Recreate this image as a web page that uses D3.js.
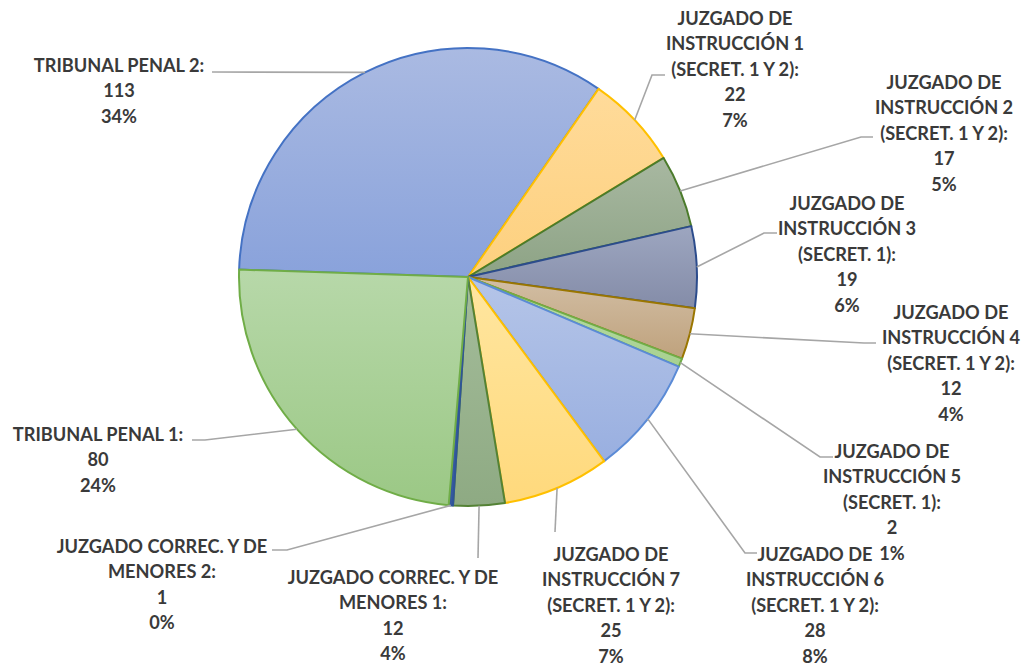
<!DOCTYPE html>
<html>
<head>
<meta charset="utf-8">
<script src="https://cdn.jsdelivr.net/npm/d3@7/dist/d3.min.js"></script>
<style>
  html, body { margin: 0; padding: 0; background: #ffffff; }
  svg { display: block; }
  .lbl { font-family: Lato, "Open Sans", sans-serif; font-weight: 700; fill: #3a3a3a; }
</style>
</head>
<body>
<svg id="chart" width="1027" height="668"></svg>
<script>
// Court names (wrapped lines separated by "\n") and case counts, in drawing order
const categories = [
  "TRIBUNAL PENAL 2:",
  "JUZGADO DE\nINSTRUCCIÓN 1\n(SECRET. 1 Y 2):",
  "JUZGADO DE\nINSTRUCCIÓN 2\n(SECRET. 1 Y 2):",
  "JUZGADO DE\nINSTRUCCIÓN 3\n(SECRET. 1):",
  "JUZGADO DE\nINSTRUCCIÓN 4\n(SECRET. 1 Y 2):",
  "JUZGADO DE\nINSTRUCCIÓN 5\n(SECRET. 1):",
  "JUZGADO DE\nINSTRUCCIÓN 6\n(SECRET. 1 Y 2):",
  "JUZGADO DE\nINSTRUCCIÓN 7\n(SECRET. 1 Y 2):",
  "JUZGADO CORREC. Y DE\nMENORES 1:",
  "JUZGADO CORREC. Y DE\nMENORES 2:",
  "TRIBUNAL PENAL 1:"
];
const values = [113, 22, 17, 19, 12, 2, 28, 25, 12, 1, 80];

// Slice fills (top, bottom of gradient) and outline colours
const fillTop    = ["#aabae2", "#ffdb9a", "#a8b8a1", "#9da6c0", "#d2bea4", "#badda9", "#b5c5e8", "#ffe6a0", "#a5bd9b", "#3d62a8", "#b7d8a9"];
const fillBottom = ["#89a2db", "#fdd07e", "#8da385", "#848ca8", "#bfa27d", "#a7d18f", "#99afe0", "#ffd97c", "#8eaa83", "#3558a0", "#9bc885"];
const strokes    = ["#4472c4", "#ffc000", "#4b7b2b", "#2c4c8c", "#9a7600", "#70ad47", "#5b8bd6", "#ffc000", "#548235", "#2f5597", "#70ad47"];

// Label placement: block centre x, first-line y, connector end and elbow
const labelLayout = [
  { cx: 119, y0: 65,  end: [212, 72],  elbow: [212, 72] },
  { cx: 735, y0: 18,  end: [665, 75],  elbow: [652, 75] },
  { cx: 944, y0: 82,  end: [873, 137], elbow: [861, 137] },
  { cx: 847, y0: 203, end: [777, 233], elbow: [764, 233] },
  { cx: 951, y0: 312, end: [876, 343], elbow: [864, 343] },
  { cx: 892, y0: 451, end: [833, 457], elbow: [820, 457] },
  { cx: 815, y0: 554, end: [757, 553], elbow: [745, 553] },
  { cx: 611, y0: 554, end: [555, 532], elbow: [555, 532] },
  { cx: 393, y0: 577, end: [478, 558], elbow: [478, 558] },
  { cx: 162, y0: 546, end: [272, 550], elbow: [287, 550] },
  { cx: 98,  y0: 434, end: [192, 440], elbow: [205, 440] }
];

const cx = 468, cy = 277, radius = 229;
const lineStep = 25.6;
const startDeg = -88.15;

// Whole-number percentages that add up to 100 (largest remainder)
function roundedPercents(vals) {
  const total = d3.sum(vals);
  const raw = vals.map(v => v / total * 100);
  const fl = raw.map(Math.floor);
  let left = 100 - d3.sum(fl);
  const order = raw.map((r, i) => [r - fl[i], i]).sort((a, b) => b[0] - a[0]);
  for (let k = 0; k < left; k++) fl[order[k][1]] += 1;
  return fl;
}
const percents = roundedPercents(values);

const svg = d3.select("#chart");
const defs = svg.append("defs");
values.forEach((v, i) => {
  const g = defs.append("linearGradient")
    .attr("id", "grad" + i)
    .attr("x1", 0).attr("y1", 0).attr("x2", 0).attr("y2", 1);
  g.append("stop").attr("offset", "0%").attr("stop-color", fillTop[i]);
  g.append("stop").attr("offset", "100%").attr("stop-color", fillBottom[i]);
});

const start = startDeg * Math.PI / 180;
const pie = d3.pie().sort(null).value(d => d)
  .startAngle(start).endAngle(start + 2 * Math.PI);
const arcs = pie(values);
const arc = d3.arc().innerRadius(0).outerRadius(radius);

const gPie = svg.append("g").attr("transform", `translate(${cx},${cy})`);
gPie.selectAll("path.slice")
  .data(arcs)
  .join("path")
  .attr("class", "slice")
  .attr("d", arc)
  .attr("fill", (d, i) => `url(#grad${i})`)
  .attr("stroke", (d, i) => strokes[i])
  .attr("stroke-width", 2)
  .attr("stroke-linejoin", "round");

// Connector lines from the slice rim to each label
const edgeArc = d3.arc().innerRadius(radius).outerRadius(radius);
svg.append("g").selectAll("polyline")
  .data(arcs)
  .join("polyline")
  .attr("points", (d, i) => {
    const c = edgeArc.centroid(d);
    const L = labelLayout[i];
    return [[cx + c[0], cy + c[1]], L.elbow, L.end].map(p => p.join(",")).join(" ");
  })
  .attr("fill", "none")
  .attr("stroke", "#a6a6a6")
  .attr("stroke-width", 1.6);

// Labels: name, count, percent
const gLab = svg.append("g");
arcs.forEach((d, i) => {
  const L = labelLayout[i];
  const lines = categories[i].split("\n").concat([String(values[i]), percents[i] + "%"]);
  const t = gLab.append("text")
    .attr("class", "lbl")
    .attr("text-anchor", "middle")
    .attr("font-size", 18.2);
  lines.forEach((s, k) => {
    t.append("tspan")
      .attr("x", L.cx)
      .attr("y", L.y0 + k * lineStep)
      .attr("dy", "0.36em")
      .text(s);
  });
});
</script>
</body>
</html>
